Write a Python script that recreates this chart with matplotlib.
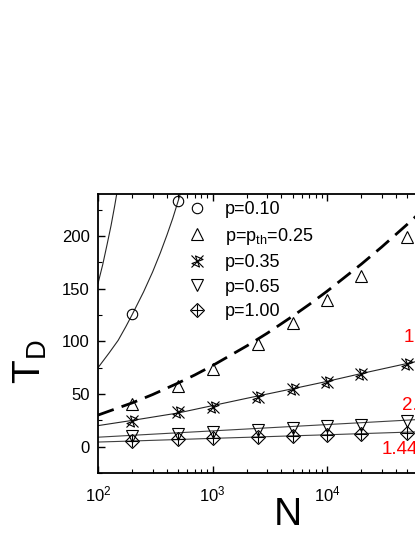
import matplotlib
matplotlib.use("Agg")
import matplotlib.pyplot as plt
from matplotlib.path import Path
import numpy as np

plt.rcParams['font.family'] = 'Liberation Sans'
plt.rcParams['mathtext.fontset'] = 'custom'
plt.rcParams['mathtext.rm'] = 'Liberation Sans'
plt.rcParams['mathtext.it'] = 'Liberation Sans:italic'

# measured points
N_pts = [200, 500, 1000, 2500, 5000, 10000, 20000, 50000]
N_p010 = [200, 500]
T_p010 = [126, 233]
T_p025 = [41, 57.5, 74, 97.5, 117.8, 139.6, 162.5, 199]
T_p035 = [24.7, 32.5, 38, 47.5, 54.4, 61.6, 68.8, 78.7]
T_p065 = [10, 12.2, 14, 16.3, 17.8, 20, 21, 24]
T_p100 = [5.3, 7, 7.9, 9.4, 10, 10.7, 11.6, 13.1]

# fitted curves
N_fitA = [100, 110, 120, 130, 140, 150]
T_fitA = [155, 173, 192, 210, 229, 248]
N_fitB = [100, 125, 150, 175, 200, 250, 300, 350, 400, 450, 500, 550]
T_fitB = [75, 89, 101, 114, 126, 147, 166, 184, 201, 217, 233, 248]
N_dash = [100, 200, 300, 500, 700, 1000, 2000, 3000, 5000, 7000, 10000, 20000, 30000, 50000, 70000, 100000]
T_dash = [30, 41.7, 49.5, 60.4, 68.1, 77, 95.8, 107.7, 123.9, 135.1, 147.6, 173.5, 189.6, 211, 225.6, 241.8]
N_fit = [100, 200, 500, 1000, 2000, 5000, 10000, 20000, 50000, 100000]
T_fit035 = [20, 25, 32, 39, 46, 55, 62, 69.5, 79, 86]
T_fit065 = [9, 10.8, 13.2, 15, 16.8, 19.2, 21, 22.8, 25.2, 27]
T_fit100 = [4.4, 5.4, 6.8, 7.9, 8.9, 10.3, 11.3, 12.4, 13.8, 14.8]

labels = ['p=0.10', r'p=p$_\mathregular{th}$=0.25', 'p=0.35', 'p=0.65', 'p=1.00']
exponents = ['1.30', '2.50', '1.44']
exp_pos = [(47000, 99), (44900, 35.3), (30200, -6.8)]

fig = plt.figure(figsize=(4.15, 5.37), dpi=100)
ax = fig.add_axes([98/415, 64/537, 343.5/415, 279/537])

lw_fit = 0.8
ax.plot(N_fitA, T_fitA, color='0.15', lw=lw_fit)
ax.plot(N_fitB, T_fitB, color='0.15', lw=lw_fit)
ax.plot(N_dash, T_dash, color='k', lw=2, dashes=(6, 3))
ax.plot(N_fit, T_fit035, color='0.15', lw=lw_fit)
ax.plot(N_fit, T_fit065, color='0.25', lw=lw_fit)
ax.plot(N_fit, T_fit100, color='0.25', lw=lw_fit)

mk = dict(mfc='none', mec='k', mew=0.8, ls='none')
ang = np.deg2rad(-25)
rot = np.array([[np.cos(ang), -np.sin(ang)], [np.sin(ang), np.cos(ang)]])
bow = np.array([[-1, -1], [1, 1], [-1, 1], [1, -1], [-1, -1]]) @ rot.T
bowtie = Path(bow, [Path.MOVETO, Path.LINETO, Path.LINETO, Path.LINETO, Path.CLOSEPOLY])

h1, = ax.plot(N_p010, T_p010, marker='o', ms=7.5, **mk)
h2, = ax.plot(N_pts, T_p025, marker='^', ms=8.5, **mk)
h3a, = ax.plot(N_pts, T_p035, marker='x', ms=9, **mk)
h3b, = ax.plot(N_pts, T_p035, marker=bowtie, ms=8, **mk)
h4, = ax.plot(N_pts, T_p065, marker='v', ms=8.5, **mk)
h5a, = ax.plot(N_pts, T_p100, marker='D', ms=7, **mk)
h5b, = ax.plot(N_pts, T_p100, marker='+', ms=8, **mk)

for s, (xx, yy) in zip(exponents, exp_pos):
    ax.text(xx, yy, s, color='red', fontsize=13.5, ha='left', va='baseline')

ax.set_xscale('log')
ax.set_xlim(100, 1e5)
ax.set_ylim(-20.9, 240)
ax.set_yticks([0, 50, 100, 150, 200])
ax.set_yticks(np.arange(-25, 250, 25), minor=True)
ax.tick_params(which='both', direction='in', top=True, right=True, labelsize=12, pad=6)
ax.tick_params(which='major', length=5, width=1)
ax.tick_params(which='minor', length=3, width=0.8)
ax.tick_params(axis='x', pad=8)
for sp in ax.spines.values():
    sp.set_linewidth(1.3)

ax.set_xlabel('N', fontsize=28)
ax.xaxis.set_label_coords(0.552, -0.086)
ax.set_ylabel(r'$\mathregular{T_D}$', fontsize=28)
ax.yaxis.set_label_coords(-0.142, 0.398)

ax.legend([h1, h2, (h3a, h3b), h4, (h5a, h5b)], labels, loc='upper left',
          bbox_to_anchor=(188/415, 1 - 201/537), bbox_transform=fig.transFigure,
          frameon=False, fontsize=13, handlelength=1.0, handletextpad=1.05,
          labelspacing=0.42, borderpad=0, borderaxespad=0)

fig.savefig('out.png', dpi=100)
